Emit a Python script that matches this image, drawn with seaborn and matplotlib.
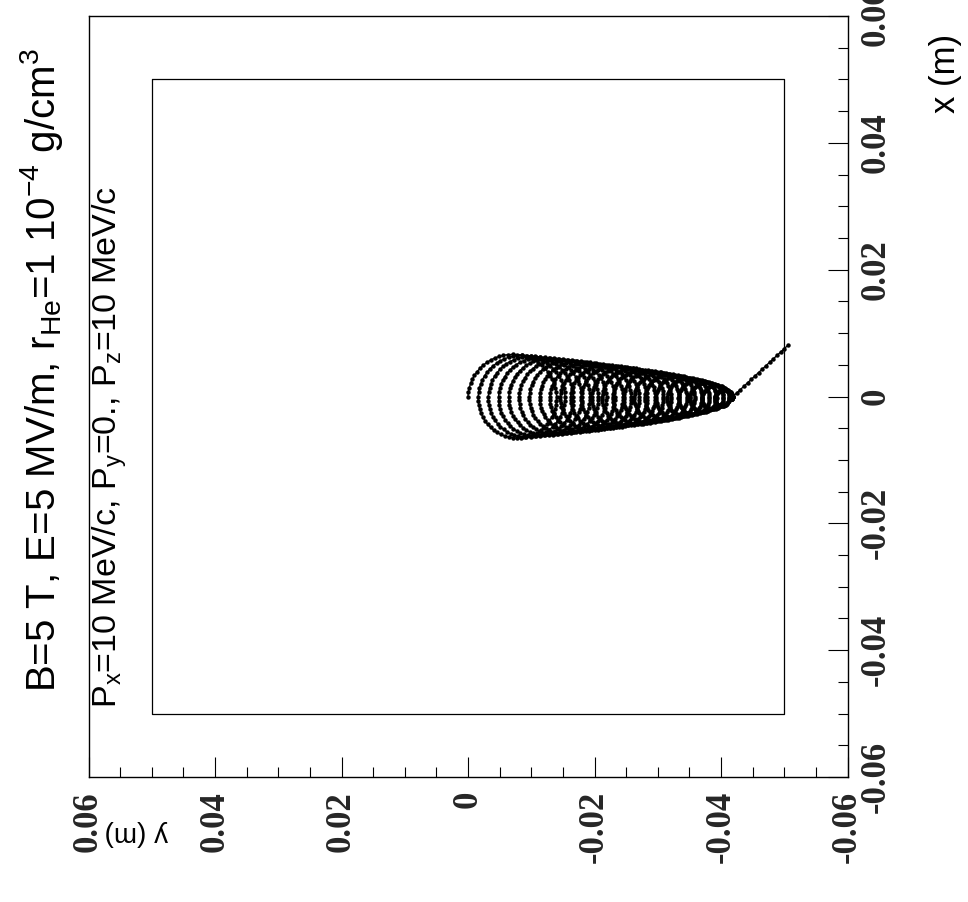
import numpy as np
import matplotlib
matplotlib.use("Agg")
import matplotlib.pyplot as plt
import seaborn as sns
from matplotlib.ticker import MultipleLocator, FixedLocator

sns.set_style("white")
plt.rcParams['font.family'] = ['Liberation Sans', 'DejaVu Sans']

# ---------------- data ----------------
title_text = ('B=5 T, E=5 MV/m, r$_{\\mathregular{He}}$=1 10$^{\\mathregular{-4}}$'
              ' g/cm$^{\\mathregular{3}}$')
info_text = ('P$_{\\mathregular{x}}$=10 MeV/c, P$_{\\mathregular{y}}$=0., '
             'P$_{\\mathregular{z}}$=10 MeV/c')
x_label = 'x (m)'
y_label = 'y (m)'
tick_values = [-0.06, -0.04, -0.02, 0.0, 0.02, 0.04, 0.06]
tick_labels = ['-0.06', '-0.04', '-0.02', '0', '0.02', '0.04', '0.06']

# guiding-centre y position (m) and gyration radius (m) of each loop of the helix
loop_center_y = [-0.00667, -0.00814, -0.00960, -0.01107, -0.01254, -0.01401,
                 -0.01547, -0.01694, -0.01841, -0.01987, -0.02134, -0.02281,
                 -0.02427, -0.02574, -0.02721, -0.02868, -0.03014, -0.03161,
                 -0.03308, -0.03454, -0.03601, -0.03748, -0.03894, -0.04041,
                 -0.04188]
loop_radius = [0.00667, 0.00653, 0.00639, 0.00624, 0.00609, 0.00594,
               0.00578, 0.00561, 0.00545, 0.00527, 0.00509, 0.00491,
               0.00472, 0.00452, 0.00431, 0.00408, 0.00385, 0.00360,
               0.00334, 0.00304, 0.00272, 0.00236, 0.00193, 0.00136,
               0.00000]
loop_center_x = 0.0

# straight exit segment after the helix
tail_y = [-0.04188, -0.0506]
tail_x = [0.0, 0.0081]

# inner box outline
box_y = [0.05, -0.05, -0.05, 0.05, 0.05]
box_x = [0.05, 0.05, -0.05, -0.05, 0.05]

# ---------------- build the trajectory ----------------
steps_per_loop = 60
traj_y, traj_x = [], []
for k in range(len(loop_radius) - 1):
    th = np.linspace(0, 2 * np.pi, steps_per_loop, endpoint=False)
    f = th / (2 * np.pi)
    c = loop_center_y[k] + (loop_center_y[k + 1] - loop_center_y[k]) * f
    r = loop_radius[k] + (loop_radius[k + 1] - loop_radius[k]) * f
    traj_y.extend(c + r * np.cos(th))
    traj_x.extend(loop_center_x + r * np.sin(th))
n_tail = 16
traj_y.extend(np.linspace(tail_y[0], tail_y[1], n_tail))
traj_x.extend(np.linspace(tail_x[0], tail_x[1], n_tail))

# ---------------- figure ----------------
W, H = 968, 902
fig = plt.figure(figsize=(W / 100, H / 100), dpi=100)
L, R, T, B = 88.5, 847.5, 16, 777
ax = fig.add_axes([L / W, 1 - B / H, (R - L) / W, (B - T) / H])

sns.lineplot(x=box_y, y=box_x, sort=False, estimator=None, color='black',
             linewidth=0.9, ax=ax)
sns.lineplot(x=traj_y, y=traj_x, sort=False, estimator=None, color='black',
             linewidth=1.0, marker='o', markersize=3.2, markeredgewidth=0,
             ax=ax)

ax.set_xlim(0.06, -0.06)
ax.set_ylim(-0.06, 0.06)
ax.set_xlabel('')
ax.set_ylabel('')
for s in ax.spines.values():
    s.set_visible(True)
    s.set_color('black')
    s.set_linewidth(1.0)

ax.xaxis.set_major_locator(FixedLocator(tick_values))
ax.yaxis.set_major_locator(FixedLocator(tick_values))
ax.xaxis.set_minor_locator(MultipleLocator(0.005))
ax.yaxis.set_minor_locator(MultipleLocator(0.005))
tick_font = dict(family='Liberation Serif', weight='bold', size=25)
ax.set_xticklabels(tick_labels, rotation=90, **tick_font)
ax.set_yticklabels(tick_labels, rotation=90, va='center', **tick_font)

ax.tick_params(which='both', direction='in', bottom=True, top=False,
               left=False, right=True, labelbottom=True, labelleft=False,
               labelright=True, color='black', width=0.8)
ax.tick_params(which='major', length=14.4)
ax.tick_params(which='minor', length=7.2)
ax.tick_params(axis='x', which='major', pad=10)
ax.tick_params(axis='y', which='major', pad=9)

fig.text(42 / W, 1 - 692 / H, title_text, rotation=90, ha='center',
         va='bottom', fontsize=29, color='black')
fig.text(110 / W, 1 - 708 / H, info_text, rotation=90, ha='center',
         va='bottom', fontsize=24.5, color='black')
fig.text(945 / W, 1 - 113 / H, x_label, rotation=90, ha='center',
         va='bottom', fontsize=25, color='black')
fig.text(104 / W, 1 - 833 / H, y_label, rotation=180, ha='left',
         va='center', fontsize=20, color='black')

fig.savefig('out.png', dpi=100)
